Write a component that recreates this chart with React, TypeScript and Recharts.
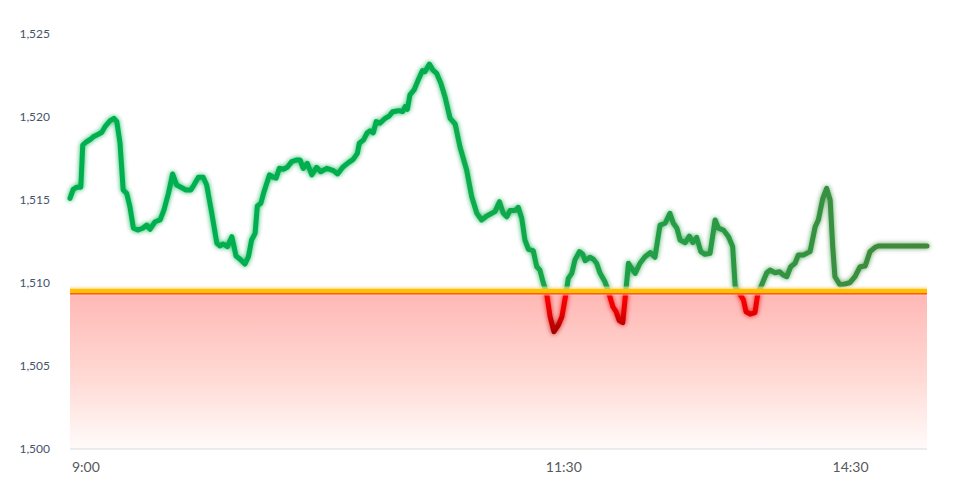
import React from 'react';
import { LineChart, Line, XAxis, YAxis, ReferenceArea, ReferenceLine } from 'recharts';

// minutes since 8:55 (lunch break folded out, so 11:30 and the afternoon open share one slot)
const sessionMinute = [
  0, 1.0, 2.1, 3.4, 4.0, 5.2, 6.5, 7.3, 8.9, 10.0,
  11.0, 12.6, 13.8, 14.7, 15.7, 16.7, 17.8, 18.8, 19.9, 21.4,
  22.8, 24.1, 25.1, 26.7, 28.3, 29.5, 30.9, 32.2, 33.5, 35.1,
  36.4, 37.9, 38.9, 40.3, 41.8, 42.9, 44.5, 46.1, 47.1, 48.1,
  49.4, 50.8, 51.5, 52.1, 53.4, 54.9, 56.0, 57.0, 58.1, 58.8,
  59.9, 60.9, 62.6, 63.8, 64.7, 65.7, 67.0, 68.2, 69.6, 71.2,
  72.2, 73.2, 74.5, 75.9, 77.4, 78.7, 80.6, 82.7, 84.0, 85.6,
  87.4, 88.9, 90.2, 90.8, 92.1, 93.3, 94.2, 95.2, 96.1, 97.3,
  98.9, 100.2, 101.3, 103.1, 104.4, 105.2, 105.9, 106.7, 108.0, 109.3,
  110.6, 111.4, 112.8, 113.9, 115.1, 116.4, 117.7, 119.3, 120.9, 122.4,
  124.5, 126.1, 127.7, 129.2, 130.8, 132.4, 133.4, 134.8, 136.0, 137.1,
  138.1, 139.7, 140.7, 141.8, 142.8, 143.9, 145.4, 146.5, 147.5, 148.6,
  149.6, 150.7, 151.9, 153.3, 154.4, 155.7, 156.4, 157.5, 158.5, 159.9,
  160.9, 161.7, 163.2, 164.3, 165.3, 166.4, 167.9, 169.0, 170.4, 171.4,
  172.4, 173.5, 174.2, 175.3, 176.3, 177.4, 178.9, 180.5, 182.1, 183.6,
  185.2, 186.8, 188.3, 189.4, 190.5, 191.5, 193.1, 194.4, 195.5, 196.7,
  198.0, 199.3, 200.9, 202.5, 203.5, 205.1, 206.7, 208.0, 208.8, 210.1,
  211.4, 212.2, 213.5, 215.0, 215.9, 217.1, 218.7, 219.7, 221.3, 222.7,
  223.9, 225.0, 226.2, 227.6, 228.6, 230.2, 232.3, 233.9, 234.9, 236.3,
  237.5, 238.6, 239.4, 240.1, 241.7, 243.3, 244.8, 246.4, 248.0, 249.6,
  251.1, 252.7, 253.7, 269,
];

const price = [
  1515.10, 1515.64, 1515.77, 1515.77, 1518.31, 1518.51, 1518.66, 1518.81, 1518.96, 1519.08,
  1519.42, 1519.78, 1519.92, 1519.72, 1518.42, 1515.60, 1515.40, 1514.60, 1513.30, 1513.19,
  1513.30, 1513.49, 1513.23, 1513.69, 1513.80, 1514.40, 1515.40, 1516.57, 1515.90, 1515.74,
  1515.60, 1515.60, 1515.90, 1516.37, 1516.37, 1515.90, 1514.20, 1512.39, 1512.23, 1512.35,
  1512.19, 1512.79, 1512.19, 1511.63, 1511.43, 1511.14, 1511.58, 1512.59, 1512.99, 1514.64,
  1514.80, 1515.50, 1516.51, 1516.37, 1516.31, 1516.91, 1516.85, 1516.97, 1517.31, 1517.41,
  1517.41, 1516.91, 1517.21, 1516.51, 1516.97, 1516.70, 1516.91, 1516.77, 1516.57, 1516.97,
  1517.25, 1517.45, 1517.81, 1518.42, 1518.61, 1519.05, 1519.17, 1519.05, 1519.72, 1519.62,
  1519.92, 1520.06, 1520.32, 1520.38, 1520.32, 1520.62, 1520.46, 1521.33, 1521.63, 1522.23,
  1522.79, 1522.73, 1523.19, 1522.83, 1522.63, 1522.03, 1521.22, 1519.92, 1519.58, 1518.21,
  1516.81, 1515.20, 1514.20, 1513.80, 1514.04, 1514.20, 1514.30, 1514.90, 1514.20, 1513.99,
  1514.36, 1514.36, 1514.56, 1513.90, 1512.59, 1512.03, 1511.95, 1510.98, 1510.78, 1509.98,
  1509.38, 1507.97, 1507.07, 1507.47, 1507.97, 1509.38, 1510.28, 1510.58, 1511.39, 1511.89,
  1511.75, 1511.34, 1511.55, 1511.43, 1511.19, 1510.58, 1510.08, 1509.48, 1508.57, 1508.27,
  1507.73, 1507.61, 1508.98, 1511.19, 1510.89, 1510.58, 1511.19, 1511.58, 1511.83, 1511.55,
  1513.49, 1513.60, 1514.20, 1513.60, 1513.30, 1512.59, 1512.43, 1512.83, 1512.43, 1512.75,
  1511.89, 1511.73, 1511.79, 1513.80, 1513.30, 1513.19, 1512.79, 1512.19, 1509.78, 1509.38,
  1508.98, 1508.27, 1508.13, 1508.21, 1509.38, 1509.88, 1510.62, 1510.78, 1510.62, 1510.68,
  1510.48, 1510.38, 1510.98, 1511.19, 1511.69, 1511.69, 1511.89, 1513.39, 1513.80, 1515.10,
  1515.70, 1515.00, 1512.19, 1510.38, 1509.88, 1509.94, 1510.02, 1510.38, 1510.98, 1511.02,
  1511.89, 1512.15, 1512.23, 1512.23,
];

const tickMinutes = [5, 155, 245];
const tickLabels = ['9:00', '11:30', '14:30'];
const yTicks = [1500, 1505, 1510, 1515, 1520, 1525];

const BASELINE = 1509.52; // yellow reference
const ALERT = 1509.4;     // below this the line turns red
const FLOOR = 1500;

const data = sessionMinute.map((m, i) => ({ m, price: price[i] }));

const maxP = Math.max(...price);
const minP = Math.min(...price);
const off = (maxP - ALERT) / (maxP - minP);

const css = `
  .seg-up { mask: url(#maskUp); }
  .seg-down { mask: url(#maskDown); }
  .seg-up path, .seg-down path { filter: url(#glow); }
`;

export default function App() {
  return (
    <div style={{ position: 'absolute', left: 0, top: 0, width: 975, height: 478, background: '#fff' }}>
      <style>{css}</style>
      <LineChart width={975} height={478} data={data} margin={{ top: 34, right: 48, bottom: 0, left: 20 }}>
        <defs>
          <filter id="glow" x="-10%" y="-10%" width="120%" height="120%">
            <feGaussianBlur in="SourceGraphic" stdDeviation="2.8" result="blur" />
            <feComponentTransfer in="blur" result="soft">
              <feFuncA type="linear" slope="0.85" />
            </feComponentTransfer>
            <feMerge>
              <feMergeNode in="soft" />
              <feMergeNode in="SourceGraphic" />
            </feMerge>
          </filter>
          <mask id="maskUp" maskContentUnits="objectBoundingBox">
            <rect x={-0.1} y={-0.1} width={1.2} height={off + 0.1} fill="#fff" />
          </mask>
          <mask id="maskDown" maskContentUnits="objectBoundingBox">
            <rect x={-0.1} y={off} width={1.2} height={1.1 - off} fill="#fff" />
          </mask>
          <linearGradient id="upStroke" x1="0" y1="0" x2="1" y2="0">
            <stop offset="0" stopColor="#00b050" />
            <stop offset="0.45" stopColor="#07ad4d" />
            <stop offset="0.75" stopColor="#2a9a44" />
            <stop offset="1" stopColor="#42883b" />
          </linearGradient>
          <linearGradient id="downStroke" x1="0" y1="0" x2="0" y2="1">
            <stop offset={off} stopColor="#ff0000" />
            <stop offset="0.93" stopColor="#e60000" />
            <stop offset="1" stopColor="#a80000" />
          </linearGradient>
          <linearGradient id="lossFill" x1="0" y1="0" x2="0" y2="1">
            <stop offset="0" stopColor="#ffb8b5" />
            <stop offset="0.55" stopColor="#ffdad5" />
            <stop offset="1" stopColor="#fffbfa" />
          </linearGradient>
        </defs>
        <XAxis
          type="number"
          dataKey="m"
          domain={[0, 269]}
          ticks={tickMinutes}
          tickFormatter={(v: number) => tickLabels[tickMinutes.indexOf(v)]}
          height={29}
          tickLine={false}
          axisLine={{ stroke: '#d9d9d9', strokeWidth: 1 }}
          tickMargin={7}
          tick={{ fill: '#595959', fontSize: 14, fontFamily: 'Lato' }}
        />
        <YAxis
          domain={[FLOOR, 1525]}
          ticks={yTicks}
          width={50}
          axisLine={false}
          tickLine={false}
          tickMargin={14}
          tickFormatter={(v: number) => v.toLocaleString('en-US')}
          tick={{ fill: '#44546a', fontSize: 12, fontFamily: 'Lato' }}
        />
        <ReferenceArea y1={FLOOR} y2={1509.35} fill="url(#lossFill)" fillOpacity={1} stroke="none" />
        <Line
          className="seg-up"
          type="linear"
          dataKey="price"
          stroke="url(#upStroke)"
          strokeWidth={5}
          strokeLinejoin="round"
          strokeLinecap="round"
          dot={false}
          activeDot={false}
          isAnimationActive={false}
        />
        <Line
          className="seg-down"
          type="linear"
          dataKey="price"
          stroke="url(#downStroke)"
          strokeWidth={5}
          strokeLinejoin="round"
          strokeLinecap="round"
          dot={false}
          activeDot={false}
          isAnimationActive={false}
        />
        <ReferenceLine y={BASELINE} stroke="#ffe3a6" strokeWidth={9} strokeOpacity={0.6} />
        <ReferenceLine y={1509.35} stroke="#ff3a2a" strokeWidth={1.5} />
        <ReferenceLine y={BASELINE} stroke="#ffc000" strokeWidth={4.5} />
      </LineChart>
    </div>
  );
}
